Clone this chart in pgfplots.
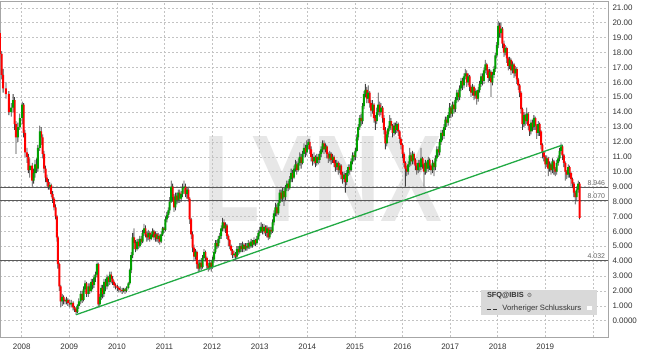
\documentclass[border=0pt]{standalone}
\usepackage{fontspec}
\setmainfont{Liberation Sans}
\newfontfamily\symf{DejaVu Sans}
\usepackage{pgfplots}
\pgfplotsset{compat=1.18}
\usepackage{pgfplotstable}
\definecolor{upgreen}{RGB}{0,160,0}
\definecolor{dnred}{RGB}{255,0,0}
\definecolor{trend}{RGB}{34,170,68}
\definecolor{gridc}{RGB}{195,195,195}
\definecolor{lvl}{RGB}{90,90,90}
\definecolor{wm}{RGB}{231,231,231}
\definecolor{txt}{RGB}{51,51,51}

\pgfplotsset{frameax/.style={at={(0,0)}, anchor=south west,
  scale only axis, width=608bp, height=336bp,
  xmin=2007.544, xmax=2020.317, ymin=-1.094, ymax=21.457, clip=true}}

\pgfplotstableread{
x o c l h
2007.54 19.3 17.9 17.6 19.5
2007.58 17.9 16.5 16.2 18.1
2007.61 16.5 15.6 15.3 16.9
2007.67 15.6 15.2 14.9 16.0
2007.73 15.2 14.0 13.8 15.4
2007.78 14.0 14.3 13.7 14.6
2007.82 14.3 14.8 14.0 15.2
2007.85 14.8 13.2 12.8 15.0
2007.88 13.2 12.3 11.2 13.4
2007.92 12.3 13.0 12.0 13.3
2007.96 13.0 13.6 12.8 13.9
2008.01 13.6 14.5 13.2 14.7
2008.04 14.5 12.6 12.3 14.6
2008.07 12.6 11.3 11.0 12.8
2008.11 11.3 11.0 10.6 11.6
2008.14 11.0 10.1 9.9 11.2
2008.17 10.1 10.4 9.6 10.9
2008.22 10.4 9.4 9.0 10.6
2008.25 9.4 9.9 9.2 10.2
2008.28 9.9 10.5 9.6 10.8
2008.31 10.5 10.2 9.9 10.9
2008.34 10.2 11.6 10.0 11.8
2008.38 11.6 12.7 11.4 13.1
2008.41 12.7 12.3 11.8 13.0
2008.44 12.3 11.2 10.9 12.5
2008.47 11.2 10.2 9.9 11.4
2008.50 10.2 9.6 9.3 10.4
2008.53 9.6 9.3 9.0 9.8
2008.56 9.3 9.0 8.8 9.5
2008.59 9.0 9.1 8.8 9.3
2008.62 9.1 8.5 8.3 9.2
2008.65 8.5 8.2 7.9 8.7
2008.68 8.2 7.6 7.4 8.3
2008.71 7.6 7.0 6.8 7.8
2008.74 7.0 5.6 5.3 7.1
2008.76 5.6 3.8 3.5 5.7
2008.79 3.8 2.3 2.0 3.9
2008.82 2.3 1.3 0.9 2.4
2008.85 1.3 1.6 1.0 1.8
2008.88 1.6 1.4 1.1 1.7
2008.91 1.4 1.3 1.1 1.5
2008.94 1.3 1.4 1.1 1.6
2008.97 1.4 1.2 1.0 1.5
2009.01 1.2 1.1 0.9 1.4
2009.04 1.1 1.2 0.9 1.4
2009.08 1.2 0.9 0.7 1.3
2009.11 0.9 0.8 0.6 1.0
2009.14 0.8 0.6 0.4 0.9
2009.17 0.6 1.0 0.5 1.1
2009.20 1.0 1.3 0.8 1.5
2009.24 1.3 1.8 1.1 2.0
2009.27 1.8 1.4 1.2 2.0
2009.30 1.4 2.1 1.3 2.3
2009.33 2.1 2.5 1.9 2.7
2009.36 2.5 1.8 1.6 2.6
2009.40 1.8 2.3 1.6 2.5
2009.43 2.3 2.0 1.8 2.5
2009.46 2.0 2.6 1.9 2.8
2009.49 2.6 2.4 2.1 2.8
2009.52 2.4 2.9 2.2 3.1
2009.55 2.9 3.1 2.6 3.3
2009.58 3.1 3.8 2.9 3.9
2009.61 3.8 1.1 0.9 3.9
2009.64 1.1 1.6 0.9 1.8
2009.67 1.6 2.2 1.4 2.4
2009.70 2.2 1.8 1.5 2.4
2009.73 1.8 2.6 1.6 2.8
2009.76 2.6 2.3 2.0 2.8
2009.79 2.3 2.9 2.1 3.1
2009.82 2.9 2.6 2.3 3.0
2009.85 2.6 3.1 2.4 3.3
2009.88 3.1 2.8 2.5 3.3
2009.91 2.8 2.6 2.4 3.0
2009.94 2.6 2.4 2.2 2.7
2009.97 2.4 2.3 2.1 2.5
2010.01 2.3 2.2 2.0 2.4
2010.04 2.2 2.1 1.9 2.3
2010.07 2.1 2.05 1.9 2.3
2010.11 2.05 2.0 1.8 2.2
2010.14 2.0 2.1 1.9 2.2
2010.17 2.1 2.0 1.8 2.2
2010.20 2.0 2.2 1.9 2.3
2010.24 2.2 2.5 2.1 2.6
2010.27 2.5 3.4 2.4 3.5
2010.30 3.4 4.4 3.2 4.6
2010.33 4.4 5.6 4.2 5.9
2010.36 5.6 5.2 4.8 6.2
2010.39 5.2 4.8 4.6 5.4
2010.42 4.8 5.3 4.7 5.5
2010.45 5.3 5.0 4.8 5.5
2010.48 5.0 5.5 4.9 5.7
2010.51 5.5 5.3 5.1 5.7
2010.54 5.3 5.9 5.2 6.1
2010.57 5.9 6.2 5.7 6.5
2010.60 6.2 5.8 5.6 6.4
2010.63 5.8 5.6 5.3 6.0
2010.66 5.6 5.9 5.4 6.1
2010.69 5.9 5.5 5.3 6.0
2010.72 5.5 5.8 5.4 6.0
2010.75 5.8 6.0 5.6 6.2
2010.78 6.0 5.6 5.4 6.1
2010.81 5.6 5.8 5.3 6.0
2010.84 5.8 5.5 5.3 5.9
2010.87 5.5 5.7 5.2 5.9
2010.90 5.7 5.3 5.1 5.8
2010.93 5.3 5.8 5.2 6.0
2010.96 5.8 6.2 5.7 6.3
2010.99 6.2 6.1 5.9 6.3
2011.02 6.1 6.8 6.0 7.0
2011.05 6.8 7.1 6.6 7.3
2011.08 7.1 7.4 6.9 7.6
2011.11 7.4 8.0 7.2 8.3
2011.14 8.0 9.0 7.9 9.4
2011.17 9.0 8.3 8.0 9.2
2011.20 8.3 7.6 7.3 8.5
2011.23 7.6 8.4 7.4 8.6
2011.26 8.4 8.1 7.8 8.6
2011.29 8.1 8.6 7.9 8.8
2011.32 8.6 8.2 7.9 8.8
2011.35 8.2 8.5 8.0 8.7
2011.38 8.5 8.9 8.3 9.2
2011.41 8.9 9.0 8.6 9.4
2011.44 9.0 8.5 8.3 9.2
2011.47 8.5 8.8 8.2 9.0
2011.50 8.8 8.2 8.0 8.9
2011.53 8.2 6.8 6.5 8.3
2011.56 6.8 5.8 5.5 6.9
2011.59 5.8 4.9 4.6 6.0
2011.62 4.9 4.3 4.0 5.1
2011.65 4.3 4.6 4.1 4.8
2011.68 4.6 3.8 3.5 4.7
2011.71 3.8 3.5 3.3 4.0
2011.74 3.5 3.9 3.3 4.1
2011.77 3.9 3.6 3.4 4.2
2011.80 3.6 4.2 3.5 4.4
2011.83 4.2 4.6 4.0 4.8
2011.86 4.6 4.2 4.0 4.7
2011.89 4.2 3.7 3.5 4.3
2011.92 3.7 3.5 3.3 3.9
2011.95 3.5 3.9 3.4 4.1
2011.98 3.9 3.6 3.3 4.0
2012.01 3.6 4.1 3.5 4.3
2012.04 4.1 4.6 3.9 4.8
2012.07 4.6 5.2 4.5 5.4
2012.10 5.2 5.0 4.8 5.4
2012.13 5.0 5.5 4.9 5.7
2012.16 5.5 5.7 5.2 5.9
2012.19 5.7 6.2 5.5 6.4
2012.22 6.2 6.6 6.0 6.9
2012.25 6.6 6.2 6.0 6.8
2012.28 6.2 6.4 5.9 6.6
2012.31 6.4 5.7 5.5 6.5
2012.34 5.7 5.4 5.0 5.8
2012.37 5.4 5.0 4.8 5.5
2012.40 5.0 4.7 4.4 5.1
2012.43 4.7 4.4 4.2 4.8
2012.46 4.4 4.5 4.2 4.7
2012.49 4.5 4.3 4.1 4.6
2012.52 4.3 4.8 4.2 5.0
2012.55 4.8 4.6 4.4 5.0
2012.58 4.6 5.0 4.5 5.2
2012.61 5.0 4.8 4.6 5.2
2012.64 4.8 5.1 4.6 5.3
2012.67 5.1 4.8 4.6 5.2
2012.70 4.8 5.0 4.7 5.2
2012.73 5.0 4.9 4.7 5.2
2012.76 4.9 5.2 4.8 5.4
2012.79 5.2 5.0 4.8 5.3
2012.82 5.0 5.3 4.9 5.5
2012.85 5.3 5.1 4.9 5.4
2012.88 5.1 5.4 5.0 5.6
2012.91 5.4 5.2 5.0 5.5
2012.94 5.2 5.5 5.1 5.7
2012.97 5.5 5.9 5.4 6.1
2013.00 5.9 6.0 5.7 6.3
2013.03 6.0 6.3 5.9 6.6
2013.06 6.3 6.0 5.8 6.5
2013.09 6.0 6.3 5.8 6.5
2013.12 6.3 5.9 5.7 6.4
2013.15 5.9 6.2 5.6 6.4
2013.18 6.2 5.6 5.4 6.3
2013.21 5.6 6.1 5.5 6.3
2013.24 6.1 6.0 5.8 6.3
2013.27 6.0 6.6 5.9 6.8
2013.30 6.6 7.2 6.4 7.4
2013.33 7.2 7.6 7.0 7.9
2013.36 7.6 7.2 7.0 7.8
2013.39 7.2 7.9 7.1 8.1
2013.42 7.9 8.6 7.7 8.8
2013.45 8.6 8.2 8.0 8.8
2013.48 8.2 8.7 8.0 8.9
2013.51 8.7 8.3 7.7 8.9
2013.54 8.3 8.9 8.1 9.1
2013.57 8.9 9.2 8.7 9.4
2013.60 9.2 8.9 8.7 9.4
2013.63 8.9 9.5 8.8 9.7
2013.66 9.5 9.9 9.3 10.2
2013.69 9.9 9.6 9.3 10.1
2013.72 9.6 10.2 9.5 10.4
2013.75 10.2 10.5 10.0 10.8
2013.78 10.5 10.1 9.8 10.7
2013.81 10.1 10.6 10.0 10.9
2013.84 10.6 11.0 10.4 11.3
2013.87 11.0 10.6 10.2 11.2
2013.90 10.6 11.2 10.5 11.4
2013.93 11.2 11.6 11.0 11.9
2013.96 11.6 11.3 11.0 11.8
2013.99 11.3 11.8 11.1 12.1
2014.02 11.8 12.0 11.5 12.2
2014.05 12.0 11.5 11.2 12.2
2014.08 11.5 11.0 10.7 11.7
2014.11 11.0 10.7 10.4 11.2
2014.14 10.7 11.0 10.5 11.3
2014.17 11.0 10.6 10.3 11.1
2014.20 10.6 11.0 10.4 11.2
2014.23 11.0 10.8 10.5 11.2
2014.26 10.8 11.2 10.6 11.4
2014.29 11.2 11.5 11.0 11.7
2014.32 11.5 11.9 11.3 12.1
2014.35 11.9 11.5 11.2 12.1
2014.38 11.5 11.7 11.3 11.9
2014.41 11.7 11.2 10.9 11.8
2014.44 11.2 10.9 10.6 11.3
2014.47 10.9 11.2 10.7 11.4
2014.50 11.2 10.8 10.5 11.3
2014.53 10.8 11.0 10.6 11.2
2014.56 11.0 10.6 10.3 11.1
2014.59 10.6 10.3 10.0 10.8
2014.62 10.3 10.6 10.1 10.8
2014.65 10.6 10.1 9.8 10.7
2014.68 10.1 10.4 9.9 10.6
2014.71 10.4 9.8 9.5 10.5
2014.74 9.8 9.5 9.2 10.0
2014.77 9.5 9.8 9.3 10.0
2014.80 9.8 9.3 8.6 9.9
2014.83 9.3 9.9 9.1 10.1
2014.86 9.9 10.3 9.7 10.5
2014.89 10.3 10.1 9.8 10.5
2014.92 10.1 10.7 10.0 10.9
2014.95 10.7 11.1 10.5 11.3
2014.98 11.1 11.0 10.7 11.3
2015.01 11.0 11.4 10.8 11.6
2015.04 11.4 12.3 11.3 12.5
2015.07 12.3 13.0 12.1 13.2
2015.10 13.0 13.6 12.8 13.8
2015.13 13.6 13.4 13.1 13.9
2015.16 13.4 14.4 13.2 14.6
2015.19 14.4 15.2 14.2 15.4
2015.22 15.2 15.5 15.0 15.9
2015.25 15.5 14.9 14.6 15.7
2015.28 14.9 15.3 14.6 15.8
2015.31 15.3 14.6 14.3 15.4
2015.34 14.6 14.1 13.7 14.8
2015.37 14.1 14.5 13.9 14.8
2015.40 14.5 13.6 13.3 14.6
2015.43 13.6 13.4 12.8 13.8
2015.46 13.4 14.0 13.2 14.3
2015.49 14.0 14.5 13.8 15.3
2015.52 14.5 14.0 13.7 14.7
2015.55 14.0 14.3 13.8 14.6
2015.58 14.3 13.6 13.3 14.4
2015.61 13.6 12.8 12.5 13.8
2015.64 12.8 11.9 11.5 13.0
2015.67 11.9 12.5 11.7 12.7
2015.70 12.5 12.9 12.3 13.1
2015.73 12.9 13.4 12.7 13.8
2015.76 13.4 13.1 12.8 13.6
2015.79 13.1 12.6 12.3 13.2
2015.82 12.6 13.1 12.4 13.3
2015.85 13.1 12.8 12.5 13.3
2015.88 12.8 13.2 12.6 13.4
2015.91 13.2 12.7 12.4 13.3
2015.94 12.7 12.2 11.9 12.8
2015.97 12.2 11.8 11.5 12.3
2016.00 11.8 11.2 10.9 11.9
2016.03 11.2 10.6 10.3 11.3
2016.06 10.6 10.2 9.0 10.7
2016.09 10.2 10.0 9.7 10.4
2016.12 10.0 10.5 9.8 10.7
2016.15 10.5 11.1 10.3 11.6
2016.18 11.1 10.7 10.4 11.3
2016.21 10.7 11.2 10.5 11.4
2016.24 11.2 10.8 10.5 11.3
2016.27 10.8 10.4 10.1 10.9
2016.30 10.4 10.1 9.8 10.6
2016.33 10.1 10.6 9.9 10.8
2016.36 10.6 10.3 10.0 10.8
2016.39 10.3 10.9 10.1 11.6
2016.42 10.9 10.5 10.2 11.0
2016.45 10.5 10.0 9.0 10.6
2016.48 10.0 10.6 9.8 10.8
2016.51 10.6 10.2 9.9 10.7
2016.54 10.2 10.8 10.0 11.0
2016.57 10.8 10.4 10.1 10.9
2016.60 10.4 10.1 9.8 10.5
2016.63 10.1 10.6 9.9 10.8
2016.66 10.6 10.3 9.7 10.7
2016.69 10.3 10.9 10.1 11.1
2016.72 10.9 11.5 10.7 11.7
2016.75 11.5 11.3 11.0 11.7
2016.78 11.3 12.0 11.1 12.2
2016.81 12.0 12.6 11.8 12.8
2016.84 12.6 12.4 12.1 12.8
2016.87 12.4 13.0 12.2 13.2
2016.90 13.0 13.5 12.8 13.7
2016.93 13.5 13.3 13.0 13.7
2016.96 13.3 13.8 13.1 14.0
2016.99 13.8 14.3 13.6 14.6
2017.02 14.3 13.9 13.6 14.4
2017.05 13.9 14.5 13.7 14.7
2017.08 14.5 14.2 13.9 14.7
2017.11 14.2 14.8 14.0 15.0
2017.14 14.8 15.3 14.6 15.5
2017.17 15.3 15.0 14.7 15.5
2017.20 15.0 15.6 14.8 15.8
2017.23 15.6 16.1 15.4 16.3
2017.26 16.1 15.8 15.5 16.3
2017.29 15.8 16.4 15.6 16.6
2017.32 16.4 16.6 16.2 16.9
2017.35 16.6 16.0 15.7 16.8
2017.38 16.0 16.4 15.8 16.6
2017.41 16.4 15.7 15.4 16.5
2017.44 15.7 15.3 15.0 15.8
2017.47 15.3 15.7 15.1 15.9
2017.50 15.7 15.1 14.8 15.8
2017.53 15.1 15.4 14.9 15.6
2017.56 15.4 14.9 14.5 15.5
2017.59 14.9 15.5 14.7 15.7
2017.62 15.5 15.9 15.3 16.1
2017.65 15.9 16.4 15.7 16.6
2017.68 16.4 16.1 15.8 16.6
2017.71 16.1 16.8 15.9 17.0
2017.74 16.8 17.2 16.6 17.5
2017.77 17.2 16.8 16.5 17.3
2017.80 16.8 16.3 16.0 16.9
2017.83 16.3 16.7 16.1 16.9
2017.86 16.7 16.0 15.0 16.8
2017.89 16.0 16.5 15.8 16.7
2017.92 16.5 16.9 16.3 17.1
2017.95 16.9 17.8 16.7 18.0
2017.98 17.8 18.5 17.6 18.7
2018.01 18.5 19.8 18.3 20.1
2018.04 19.8 19.3 19.0 20.0
2018.07 19.3 19.6 19.0 20.0
2018.10 19.6 18.6 18.3 19.7
2018.13 18.6 18.0 17.7 18.8
2018.16 18.0 18.3 17.8 18.5
2018.19 18.3 17.6 17.3 18.4
2018.22 17.6 17.1 16.8 17.7
2018.25 17.1 17.5 16.9 17.7
2018.28 17.5 16.8 16.5 17.6
2018.31 16.8 17.2 16.6 17.4
2018.34 17.2 16.6 16.3 17.3
2018.37 16.6 16.9 16.4 17.1
2018.40 16.9 16.2 15.9 17.0
2018.43 16.2 15.8 15.5 16.3
2018.46 15.8 15.3 15.0 15.9
2018.49 15.3 14.2 13.9 15.4
2018.52 14.2 13.2 12.8 14.3
2018.55 13.2 13.8 13.0 14.0
2018.58 13.8 13.4 13.1 13.9
2018.61 13.4 13.9 13.2 14.3
2018.64 13.9 13.1 12.8 14.0
2018.67 13.1 12.7 12.4 13.2
2018.70 12.7 13.3 12.5 13.5
2018.73 13.3 13.0 12.7 13.5
2018.76 13.0 13.6 12.8 13.8
2018.79 13.6 13.1 12.8 13.7
2018.82 13.1 12.6 12.2 13.2
2018.85 12.6 13.2 12.4 13.4
2018.88 13.2 12.7 12.4 13.3
2018.91 12.7 11.8 11.5 12.8
2018.94 11.8 11.3 10.9 11.9
2018.97 11.3 11.0 10.7 11.4
2019.00 11.0 10.5 10.2 11.1
2019.03 10.5 10.9 10.3 11.1
2019.06 10.9 10.2 9.7 11.0
2019.09 10.2 10.5 10.0 10.7
2019.12 10.5 10.1 9.8 10.6
2019.15 10.1 10.7 9.9 10.9
2019.18 10.7 10.2 9.8 10.8
2019.21 10.2 10.0 9.7 10.3
2019.24 10.0 10.6 9.8 10.8
2019.27 10.6 10.9 10.4 11.1
2019.30 10.9 11.4 10.7 11.6
2019.33 11.4 11.7 11.2 11.9
2019.36 11.7 11.1 10.8 11.8
2019.39 11.1 10.6 10.3 11.2
2019.42 10.6 10.0 9.4 10.7
2019.45 10.0 9.8 9.5 10.1
2019.48 9.8 10.3 9.6 10.5
2019.51 10.3 9.9 9.6 10.4
2019.54 9.9 9.5 9.0 10.0
2019.57 9.5 9.2 8.9 9.6
2019.60 9.2 8.6 8.3 9.3
2019.63 8.6 8.3 7.8 8.7
2019.66 8.3 8.8 8.1 9.0
2019.69 8.8 9.2 8.6 9.4
2019.72 9.2 6.9 6.8 9.3
}\sfq

\begin{document}
\begin{tikzpicture}
% watermark behind the chart
\node[anchor=base, text=wm, inner sep=0] at (322.5bp,115bp)
  {\scalebox{0.75}[1]{\fontsize{124}{124}\selectfont\bfseries LYNX}};
% frame, grid, ticks, level lines
\begin{axis}[frameax,
  axis line style={draw=black!35, line width=0.6bp},
  xtick={2008,2009,2010,2011,2012,2013,2014,2015,2016,2017,2018,2019,2020},
  xticklabels={2008,2009,2010,2011,2012,2013,2014,2015,2016,2017,2018,2019,{}},
  ytick={0,1,2,3,4,5,6,7,8,9,10,11,12,13,14,15,16,17,18,19,20,21},
  yticklabels={0.0000,1.000,2.000,3.000,4.000,5.000,6.000,7.000,8.000,9.000,10.00,11.00,12.00,13.00,14.00,15.00,16.00,17.00,18.00,19.00,20.00,21.00},
  yticklabel pos=right,
  grid=major,
  major grid style={draw=gridc, line width=0.5bp, dash pattern=on 2bp off 2bp},
  major tick length=0pt,
  tick label style={font=\fontsize{8}{9}\selectfont, text=txt},
  xticklabel style={yshift=-3.2bp},
  yticklabel style={anchor=west, xshift=1bp},
]
\addplot[lvl, line width=0.8bp] coordinates {(2007.544,8.946) (2020.317,8.946)};
\addplot[lvl, line width=0.8bp] coordinates {(2007.544,8.070) (2020.317,8.070)};
\addplot[lvl, line width=0.8bp] coordinates {(2007.544,4.032) (2020.317,4.032)};
\node[anchor=south east, font=\fontsize{7}{8}\selectfont, text=black!60, inner sep=1.5bp] at (axis cs:2020.29,8.946) {8.946};
\node[anchor=south east, font=\fontsize{7}{8}\selectfont, text=black!60, inner sep=1.5bp] at (axis cs:2020.29,8.070) {8.070};
\node[anchor=south east, font=\fontsize{7}{8}\selectfont, text=black!60, inner sep=1.5bp] at (axis cs:2020.29,4.032) {4.032};
\end{axis}
% wicks: stacked bars from low to high
\begin{axis}[frameax, hide axis, ybar stacked, bar width=0.8bp]
\addplot[draw=none, fill=none] table[x=x, y=l] {\sfq};
\addplot[draw=none, fill=black!75] table[x=x, y expr={\thisrow{h}-\thisrow{l}}] {\sfq};
\end{axis}
% candle bodies: stacked bars from min(open,close)
\begin{axis}[frameax, hide axis, ybar stacked, bar width=2.0bp]
\addplot[draw=none, fill=none] table[x=x, y expr={min(\thisrow{o},\thisrow{c})}] {\sfq};
\addplot[draw=none, fill=upgreen] table[x=x, y expr={max(\thisrow{c}-\thisrow{o},0)}] {\sfq};
\addplot[draw=none, fill=dnred] table[x=x, y expr={max(\thisrow{o}-\thisrow{c},0)}] {\sfq};
\end{axis}
% trend line and legend
\begin{axis}[frameax, hide axis]
\addplot[trend, line width=1.3bp] coordinates {(2009.14,0.40) (2019.36,11.79)};
\node[fill=black!15, inner sep=0, minimum width=116bp, minimum height=25bp, anchor=north east] (lg) at (rel axis cs:0.983,0.1399) {};
\node[anchor=west, inner sep=0, text=txt, font=\bfseries\fontsize{7.4}{8}\selectfont] at ([xshift=5.6bp,yshift=-6bp]lg.north west) {SFQ@IBIS\hspace{3bp}{\mdseries\symf\fontsize{6}{6}\selectfont\textcolor{black!60}{⚙}}};
\draw[txt, line width=0.9bp, dash pattern=on 4bp off 2.5bp] ([xshift=5.3bp,yshift=-19bp]lg.north west) -- ([xshift=16.3bp,yshift=-19bp]lg.north west);
\node[anchor=west, inner sep=0, text=txt, font=\fontsize{7.7}{8}\selectfont] at ([xshift=21bp,yshift=-19bp]lg.north west) {Vorheriger Schlusskurs};
\fill[white] ([xshift=106bp,yshift=-16bp]lg.north west) rectangle ([xshift=110.5bp,yshift=-20.5bp]lg.north west);
\end{axis}
\pgfresetboundingbox
\useasboundingbox (0bp,-20bp) rectangle (645bp,337bp);
\end{tikzpicture}
\end{document}
